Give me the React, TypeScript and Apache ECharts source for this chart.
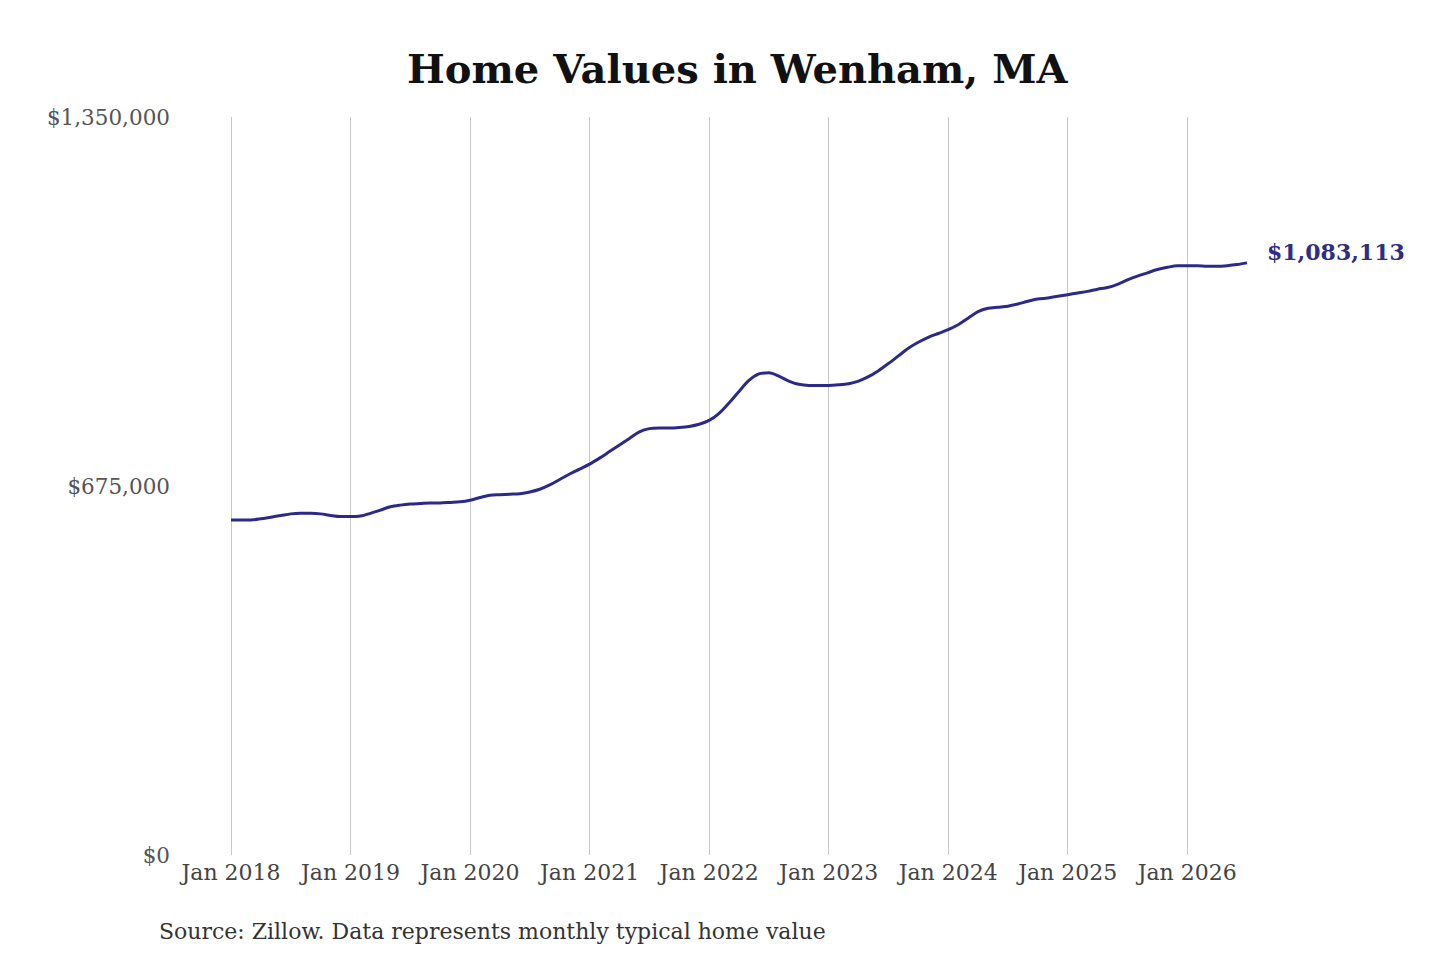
import React, { useEffect, useRef } from "react";
import * as echarts from "echarts";

const years = [2018, 2019, 2020, 2021, 2022, 2023, 2024, 2025, 2026];
const monthNames = ["Jan", "Feb", "Mar", "Apr", "May", "Jun", "Jul", "Aug", "Sep", "Oct", "Nov", "Dec"];

// Monthly typical home value, in thousands of dollars
const values2018 = [613, 613, 613, 615, 618, 621, 624, 625, 625, 624, 621, 619];
const values2019 = [619, 620, 625, 631, 637, 640, 642, 643, 644, 644, 645, 646];
const values2020 = [649, 654, 658, 659, 660, 661, 664, 669, 677, 687, 697, 706];
const values2021 = [715, 726, 738, 750, 762, 774, 780, 781, 781, 782, 784, 788];
const values2022 = [795, 808, 827, 848, 868, 880, 882, 876, 867, 861, 859, 859];
const values2023 = [859, 860, 862, 867, 875, 886, 899, 913, 927, 938, 947, 954];
const values2024 = [961, 970, 982, 994, 1000, 1002, 1004, 1008, 1013, 1017, 1019, 1022];
const values2025 = [1025, 1028, 1031, 1035, 1038, 1044, 1052, 1059, 1065, 1071, 1075, 1078];
const values2026 = [1078, 1078, 1077, 1077, 1078, 1080, 1083.113];

const yTicks = [0, 675000, 1350000];

const title = "Home Values in Wenham, MA";
const source = "Source: Zillow. Data represents monthly typical home value";

const FONT = "'DejaVu Serif', serif";

export default function App() {
  const ref = useRef<HTMLDivElement>(null);

  useEffect(() => {
    if (!ref.current) return;
    const chart = echarts.init(ref.current, undefined, { renderer: "svg" });

    const allValues = [
      ...values2018, ...values2019, ...values2020, ...values2021, ...values2022,
      ...values2023, ...values2024, ...values2025, ...values2026,
    ].map((v) => Math.round(v * 1000));
    const categories: string[] = [];
    for (let i = 0; i < allValues.length; i++) {
      const y = years[Math.floor(i / 12)];
      categories.push(`${monthNames[i % 12]} ${y}`);
    }
    const fmt = (v: number) => "$" + v.toLocaleString("en-US");
    const isJan = (i: number) => i % 12 === 0;

    chart.setOption({
      animation: false,
      backgroundColor: "#ffffff",
      title: {
        text: title,
        left: 402,
        top: 43,
        textStyle: { fontFamily: FONT, fontWeight: "bold", fontSize: 40, color: "#111" },
      },
      graphic: [
        {
          type: "text",
          left: 159,
          top: 920,
          style: { text: source, fontFamily: FONT, fontSize: 22, fill: "#333" },
        },
      ],
      grid: { left: 231, right: 193, top: 117, bottom: 105, containLabel: false },
      xAxis: {
        type: "category",
        data: categories,
        boundaryGap: false,
        axisLine: { show: false },
        axisTick: { show: false },
        axisLabel: {
          interval: (i: number) => isJan(i),
          fontFamily: FONT,
          fontSize: 22,
          color: "#444",
          margin: 6,
        },
        splitLine: {
          show: true,
          interval: (i: number) => isJan(i),
          lineStyle: { color: "#c8c8c8", width: 1 },
        },
      },
      yAxis: {
        type: "value",
        min: 0,
        max: yTicks[yTicks.length - 1],
        interval: yTicks[1],
        axisLine: { show: false },
        axisTick: { show: false },
        splitLine: { show: false },
        axisLabel: {
          formatter: (v: number) => fmt(v),
          fontFamily: FONT,
          fontSize: 21.5,
          color: "#555",
          margin: 61,
        },
      },
      series: [
        {
          type: "line",
          data: allValues,
          smooth: 0.3,
          symbol: "none",
          lineStyle: { color: "#2b2a8c", width: 3 },
          endLabel: {
            show: true,
            formatter: (p: any) => fmt(p.value),
            fontFamily: FONT,
            fontWeight: "bold",
            fontSize: 22,
            color: "#2e2d86",
            distance: 20,
            offset: [0, -11],
          },
        },
      ],
    });

    return () => chart.dispose();
  }, []);

  return <div ref={ref} style={{ width: 1440, height: 960, margin: -8 }} />;
}
